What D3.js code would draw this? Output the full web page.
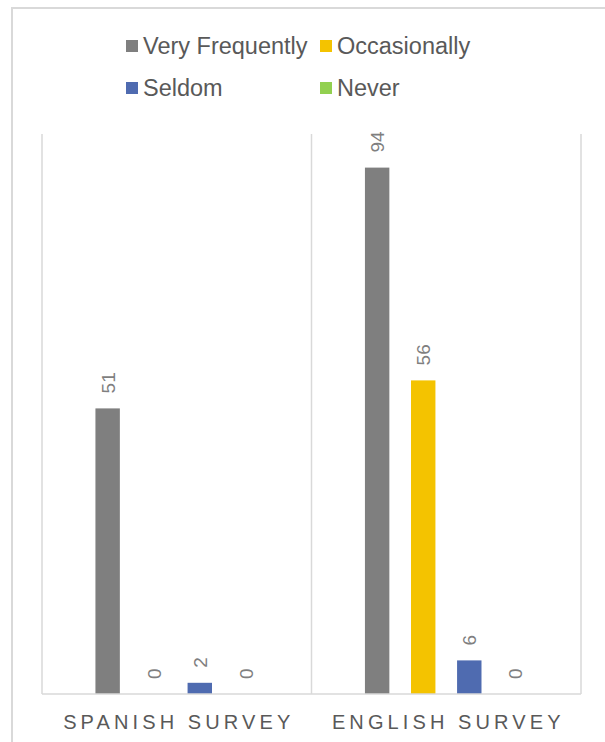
<!DOCTYPE html>
<html>
<head>
<meta charset="utf-8">
<script src="https://cdn.jsdelivr.net/npm/d3@7"></script>
<style>
  html, body { margin: 0; padding: 0; background: #fff; }
  svg { display: block; font-family: "Liberation Sans", Arial, sans-serif; }
</style>
</head>
<body>
<svg id="chart" width="605" height="742"></svg>
<script>
const categories = ["SPANISH SURVEY", "ENGLISH SURVEY"];
const seriesNames = ["Very Frequently", "Occasionally", "Seldom", "Never"];
const veryFrequently = [51, 94];
const occasionally = [0, 56];
const seldom = [2, 6];
const never = [0, 0];
const colors = ["#7f7f7f", "#f4c300", "#4f6bb0", "#92d050"];

const seriesValues = [veryFrequently, occasionally, seldom, never];

const svg = d3.select("#chart");

// chart border
svg.append("rect")
  .attr("x", 12).attr("y", 8)
  .attr("width", 620).attr("height", 760)
  .attr("fill", "none").attr("stroke", "#d9d9d9").attr("stroke-width", 2);

const plot = { left: 42, right: 581, top: 134, bottom: 694 };

const x0 = d3.scaleBand().domain(categories).range([plot.left, plot.right]).padding(0);
const x1 = d3.scaleBand().domain(seriesNames).range([0, x0.bandwidth()])
  .paddingInner(0.47).paddingOuter(1.16);
const y = d3.scaleLinear().domain([0, 100]).range([plot.bottom, plot.top]);

// vertical category separators
const seps = [plot.left, ...categories.map(c => x0(c) + x0.bandwidth())];
svg.append("g").selectAll("line").data(seps).join("line")
  .attr("x1", d => d).attr("x2", d => d)
  .attr("y1", plot.top).attr("y2", plot.bottom)
  .attr("stroke", "#d9d9d9").attr("stroke-width", 1.5);

// bars
const rows = [];
categories.forEach((c, ci) => {
  seriesNames.forEach((s, si) => {
    rows.push({ cat: c, series: s, value: seriesValues[si][ci], color: colors[si] });
  });
});

svg.append("g").selectAll("rect").data(rows).join("rect")
  .attr("x", d => x0(d.cat) + x1(d.series))
  .attr("y", d => y(d.value))
  .attr("width", x1.bandwidth())
  .attr("height", d => y(0) - y(d.value))
  .attr("fill", d => d.color);

// baseline
svg.append("line")
  .attr("x1", plot.left).attr("x2", plot.right)
  .attr("y1", plot.bottom).attr("y2", plot.bottom)
  .attr("stroke", "#d9d9d9").attr("stroke-width", 1.5);

// data labels (rotated)
svg.append("g").selectAll("text").data(rows).join("text")
  .attr("transform", d => {
    const cx = x0(d.cat) + x1(d.series) + x1.bandwidth() / 2 + 7;
    const cy = y(d.value) - 15;
    return `translate(${cx},${cy}) rotate(-90)`;
  })
  .attr("text-anchor", "start")
  .attr("font-size", 19)
  .attr("fill", "#7f7f7f")
  .text(d => d.value);

// category labels
svg.append("g").selectAll("text").data(categories).join("text")
  .attr("x", d => x0(d) + x0.bandwidth() / 2 + 2)
  .attr("y", 729)
  .attr("text-anchor", "middle")
  .attr("font-size", 20)
  .attr("letter-spacing", 4.1)
  .attr("fill", "#595959")
  .text(d => d);

// legend
const legendPos = [
  { x: 126, y: 40 }, { x: 320, y: 40 },
  { x: 126, y: 82 }, { x: 320, y: 82 }
];
const lg = svg.append("g").selectAll("g").data(seriesNames).join("g")
  .attr("transform", (d, i) => `translate(${legendPos[i].x},${legendPos[i].y})`);
lg.append("rect").attr("width", 12).attr("height", 12)
  .attr("fill", (d, i) => colors[i]);
lg.append("text").attr("x", 17).attr("y", 13.5)
  .attr("font-size", 23.5).attr("fill", "#595959")
  .text(d => d);
</script>
</body>
</html>
